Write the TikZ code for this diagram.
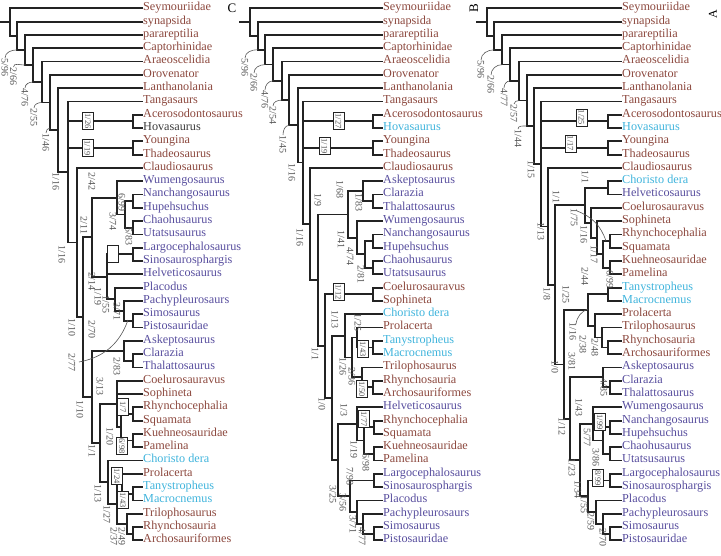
\documentclass[tikz,border=0pt]{standalone}
\usepackage{fontspec}
\setmainfont{Liberation Serif}
\definecolor{brn}{RGB}{140,72,62}
\definecolor{prp}{RGB}{88,78,158}
\definecolor{cyn}{RGB}{64,180,220}
\definecolor{dgr}{RGB}{60,60,60}
\definecolor{lgr}{RGB}{85,85,85}
\definecolor{ln}{RGB}{35,35,35}

\begin{document}
\begin{tikzpicture}[
		x={(1pt,0pt)},
		y={(0pt,-1pt)},
		branch/.style={draw=ln,line width=1.8pt,line cap=rect},
		taxon/.style={anchor=west,inner sep=1pt,font=\fontsize{12.2}{13}\selectfont,text height=0.68em,text depth=0.2em},
		supp/.style={anchor=west,rotate=-90,inner sep=0.5pt,text=lgr,font=\fontsize{10}{10}\selectfont},
		sbox/.style={draw=ln,fill=white,line width=0.7pt,rotate=-90,inner sep=1pt,minimum width=17pt,minimum height=11pt,text=lgr,font=\fontsize{8.5}{8.5}\selectfont},
		lead/.style={draw=lgr,line width=0.6pt},
	]
		\useasboundingbox (0,0) rectangle (721,555);
		
		% left tree
		\foreach \px/\x/\ya/\yb in {0/10/0/2.07, 10/17/1/3.13, 17/25/2/4.27, 25/33/3/5.54,
			33/41.7/4/7.08, 41.7/50/5/9.15, 50/58/6/12.3, 58/68/7/17.61,
			68/133/8/9, 68/133/10/11, 68/77/12/23.22, 77/83/17.22/29.22,
			83/92/14.25/20.19, 92/117/13/15.5, 117/125/14.5/16.5, 125/133/14/15, 125/133/16/17,
			92/107/18.5/21.875, 107/133/18/19, 107/115/21/22.75, 115/124/22/23.5, 124/133/23/24,
			83/92/25.75/32.69, 92/124/25/26.5, 124/133/26/27,
			92/100/29.75/35.625, 100/117/28/31.5, 117/121/30.5/32.5, 121/133/30/31, 121/133/32/33,
			100/108/34/37.25, 108/117/35.75/38.75, 117/122/35/36.5, 122/133/36/37,
			117/127/38/39.5, 127/133/39/40}{
			\draw[branch] (\px,{8.3+13.3*(\ya+\yb)/2}) -- (\x,{8.3+13.3*(\ya+\yb)/2})
				(\x,{8.3+13.3*\ya}) -- (\x,{8.3+13.3*\yb});
		}
		\foreach \r/\px/\n/\c in {0/10/Seymouriidae/brn, 1/17/synapsida/brn, 2/25/parareptilia/brn,
			3/33/Captorhinidae/brn, 4/41.7/Araeoscelidia/brn, 5/50/Orovenator/brn,
			6/58/Lanthanolania/brn, 7/68/Tangasaurs/brn, 8/133/Acerosodontosaurus/brn,
			9/133/Hovasaurus/dgr, 10/133/Youngina/brn, 11/133/Thadeosaurus/brn,
			12/77/Claudiosaurus/brn, 13/117/Wumengosaurus/prp, 14/133/Nanchangosaurus/prp,
			15/133/Hupehsuchus/prp, 16/133/Chaohusaurus/prp, 17/133/Utatsusaurus/prp,
			18/133/Largocephalosaurus/prp, 19/133/Sinosaurosphargis/prp, 20/107/Helveticosaurus/prp,
			21/115/Placodus/prp, 22/124/Pachypleurosaurs/prp, 23/133/Simosaurus/prp,
			24/133/Pistosauridae/prp, 25/124/Askeptosaurus/prp, 26/133/Clarazia/prp,
			27/133/Thalattosaurus/prp, 28/117/Coelurosauravus/brn, 29/117/Sophineta/brn,
			30/133/Rhynchocephalia/brn, 31/133/Squamata/brn, 32/133/Kuehneosauridae/brn,
			33/133/Pamelina/brn, 34/108/Choristo dera/cyn, 35/122/Prolacerta/brn,
			36/133/Tanystropheus/cyn, 37/133/Macrocnemus/cyn, 38/127/Trilophosaurus/brn,
			39/133/Rhynchosauria/brn, 40/133/Archosauriformes/brn}{
			\node[taxon,text=\c] (l-\r) at (142,{8.3+13.3*\r}) {\n};
			\draw[branch] (\px,{8.3+13.3*\r}) -- (l-\r.west);
		}
		\foreach \x/\y/\t [count=\i] in {5/58/{5/96}, 13.5/67/{2/66}, 25/88/{4/76}, 34/108/{2/55},
			46/133/{1/46}, 56/172/{1/16}, 62/245/{1/16}, 92/172/{2/42}, 122/193/{6/99},
			113/212/{3/74}, 129/227/{5/83}, 84/216/{2/11}, 92/272/{2/14}, 98/287/{1/19},
			106/295/{1/55}, 117/302/{3/71}, 72/318/{1/10}, 92/320/{2/70}, 72/353/{2/77},
			117/357/{2/83}, 100/377/{3/13}, 80/400/{1/10}, 110/427/{1/20}, 92/444/{1/1},
			98/484/{1/13}, 107/505/{1/27}, 114/527/{2/37}, 122/527/{2/49}}{
			\node[supp] (ls-\i) at (\x,\y) {\t};
		}
		\foreach \x/\y/\t [count=\i] in {88/121/{1/26}, 87.5/148/{1/19}, 113/254/{}, 123/407/{1/7},
			122/446/{6/98}, 117/476/{1/24}, 123/500/{1/43}}{
			\node[sbox] (lb-\i) at (\x,\y) {\t};
		}
		\draw[lead] (17,49.9) to[out=180,in=90] (ls-1.west);
		\draw[lead] (25,65.1) to[out=180,in=90] (ls-2.west);
		\draw[lead] (33,82) to[out=180,in=90] (ls-3.west);
		\draw[lead] (41.7,102.5) to[out=180,in=90] (ls-4.west);
		\draw[lead] (50,128) to[out=180,in=90] (ls-5.west);
		\draw[lead] (79,362) to[bend right=30] (128,320);
		
		% middle tree
		\node[font=\fontsize{13}{13}\selectfont] (panC) at (232,8) {C};
		\foreach \px/\x/\ya/\yb in {240/250/0/2.06, 250/257.7/1/3.11, 257.7/265/2/4.23, 265/273.3/3/5.45,
			273.3/281.7/4/6.9, 281.7/289.3/5/8.8, 289.3/297.7/6/11.6, 297.7/303/7/16.2,
			303/373/8/9, 303/373/10/11, 303/310/12/20.45, 310/318/15.5/25.4,
			318/348/13.75/17.25, 348/363/13/14.5, 363/373/14/15, 348/357/16/18.5,
			357/365/17.5/19.5, 365/373/17/18, 365/373/19/20,
			318/325/21.5/29.3, 325/373/21/22, 325/332/24.625/33.97, 332/345/23/26.25,
			345/352/24.75/27.75, 352/357/24/25.5, 357/373/25/26, 352/362/27/28.5, 362/373/28/29,
			332/338/31.25/36.69, 338/357/30/32.5, 357/364/31.5/33.5, 364/374/31/32, 364/374/33/34,
			338/350/35.5/37.875, 350/374/35/36, 350/357/37/38.75, 357/363/38/39.5, 363/374/39/40}{
			\draw[branch] (\px,{8.3+13.3*(\ya+\yb)/2}) -- (\x,{8.3+13.3*(\ya+\yb)/2})
				(\x,{8.3+13.3*\ya}) -- (\x,{8.3+13.3*\yb});
		}
		\foreach \r/\px/\n/\c in {0/250/Seymouriidae/brn, 1/257.7/synapsida/brn, 2/265/parareptilia/brn,
			3/273.3/Captorhinidae/brn, 4/281.7/Araeoscelidia/brn, 5/289.3/Orovenator/brn,
			6/297.7/Lanthanolania/brn, 7/303/Tangasaurs/brn, 8/373/Acerosodontosaurus/brn,
			9/373/Hovasaurus/cyn, 10/373/Youngina/brn, 11/373/Thadeosaurus/brn,
			12/310/Claudiosaurus/brn, 13/363/Askeptosaurus/prp, 14/373/Clarazia/prp,
			15/373/Thalattosaurus/prp, 16/357/Wumengosaurus/prp, 17/373/Nanchangosaurus/prp,
			18/373/Hupehsuchus/prp, 19/373/Chaohusaurus/prp, 20/373/Utatsusaurus/prp,
			21/373/Coelurosauravus/brn, 22/373/Sophineta/brn, 23/345/Choristo dera/cyn,
			24/357/Prolacerta/brn, 25/373/Tanystropheus/cyn, 26/373/Macrocnemus/cyn,
			27/362/Trilophosaurus/brn, 28/373/Rhynchosauria/brn, 29/373/Archosauriformes/brn,
			30/357/Helveticosaurus/prp, 31/374/Rhynchocephalia/brn, 32/374/Squamata/brn,
			33/374/Kuehneosauridae/brn, 34/374/Pamelina/brn, 35/374/Largocephalosaurus/prp,
			36/374/Sinosaurosphargis/prp, 37/357/Placodus/prp, 38/363/Pachypleurosaurs/prp,
			39/374/Simosaurus/prp, 40/374/Pistosauridae/prp}{
			\node[taxon,text=\c] (m-\r) at (382,{8.3+13.3*\r}) {\n};
			\draw[branch] (\px,{8.3+13.3*\r}) -- (m-\r.west);
		}
		\foreach \x/\y/\t [count=\i] in {245/58/{5/96}, 254/73/{2/66}, 265/90/{4/76}, 273/106/{2/54},
			283/135/{1/45}, 292/163/{1/16}, 300/228/{1/16}, 318/193/{1/9}, 340/180/{1/68},
			359/193/{1/83}, 341/230/{1/41}, 350/247/{4/74}, 361/265/{2/81}, 335/310/{1/13},
			315/347/{1/1}, 358/313/{1/25}, 343/357/{1/26}, 352/367/{2/36}, 322/397/{1/0},
			344/403/{1/3}, 354/440/{1/19}, 366/453/{6/98}, 350/467/{7/98}, 333/485/{3/25},
			343/493/{3/56}, 353/515/{3/71}, 362/527/{4/77}}{
			\node[supp] (ms-\i) at (\x,\y) {\t};
		}
		\foreach \x/\y/\t [count=\i] in {338.5/121/{1/27}, 324.5/146/{1/19}, 338.5/292/{1/12},
			363/349/{1/43}, 362/389/{1/50}, 364/419/{1/77}}{
			\node[sbox] (mb-\i) at (\x,\y) {\t};
		}
		\draw[lead] (257.7,49.7) to[out=180,in=90] (ms-1.west);
		\draw[lead] (265,64.6) to[out=180,in=90] (ms-2.west);
		\draw[lead] (273.3,80.8) to[out=180,in=90] (ms-3.west);
		\draw[lead] (281.7,100.1) to[out=180,in=90] (ms-4.west);
		\draw[lead] (289.3,125.3) to[out=180,in=90] (ms-5.west);
		
		% right tree
		\node[font=\fontsize{13}{13}\selectfont,rotate=90] (panB) at (474,8) {B};
		\node[font=\fontsize{12}{12}\selectfont,rotate=90,inner sep=0pt] (panA) at (713,14) {A};
		\foreach \px/\x/\ya/\yb in {476.7/486.7/0/2.06, 486.7/494.3/1/3.12, 494.3/502.3/2/4.23,
			502.3/510/3/5.46, 510/519/4/6.93, 519/526.7/5/8.85, 526.7/534.3/6/11.7,
			534.3/541/7/16.4, 541/608/8/9, 541/608/10/11, 541/547.7/12/20.8,
			547.7/555/14.81/26.78, 555/585/13.5/16.125, 585/608/13/14, 585/591/15/17.25,
			591/597/16/18.5, 597/603/17.5/19.5, 603/610/17/18, 603/610/19/20,
			555/564/22.69/30.86, 564/588/21.5/23.875, 588/608/21/22, 588/595/23/24.75,
			595/601.7/24/25.5, 601.7/608/25/26, 564/570/27.75/33.97, 570/603/27/28.5,
			603/610/28/29, 570/580/31.25/36.69, 580/593/30/32.5, 593/603/31.5/33.5,
			603/610/31/32, 603/610/33/34, 580/588/35.5/37.875, 588/610/35/36,
			588/596/37/38.75, 596/603/38/39.5, 603/610/39/40}{
			\draw[branch] (\px,{8.3+13.3*(\ya+\yb)/2}) -- (\x,{8.3+13.3*(\ya+\yb)/2})
				(\x,{8.3+13.3*\ya}) -- (\x,{8.3+13.3*\yb});
		}
		\foreach \r/\px/\n/\c in {0/486.7/Seymouriidae/brn, 1/494.3/synapsida/brn, 2/502.3/parareptilia/brn,
			3/510/Captorhinidae/brn, 4/519/Araeoscelidia/brn, 5/526.7/Orovenator/brn,
			6/534.3/Lanthanolania/brn, 7/541/Tangasaurs/brn, 8/608/Acerosodontosaurus/brn,
			9/608/Hovasaurus/cyn, 10/608/Youngina/brn, 11/608/Thadeosaurus/brn,
			12/547.7/Claudiosaurus/brn, 13/608/Choristo dera/cyn, 14/608/Helveticosaurus/prp,
			15/591/Coelurosauravus/brn, 16/597/Sophineta/brn, 17/610/Rhynchocephalia/brn,
			18/610/Squamata/brn, 19/610/Kuehneosauridae/brn, 20/610/Pamelina/brn,
			21/608/Tanystropheus/cyn, 22/608/Macrocnemus/cyn, 23/595/Prolacerta/brn,
			24/601.7/Trilophosaurus/brn, 25/608/Rhynchosauria/brn, 26/608/Archosauriformes/brn,
			27/603/Askeptosaurus/prp, 28/610/Clarazia/prp, 29/610/Thalattosaurus/prp,
			30/593/Wumengosaurus/prp, 31/610/Nanchangosaurus/prp, 32/610/Hupehsuchus/prp,
			33/610/Chaohusaurus/prp, 34/610/Utatsusaurus/prp, 35/610/Largocephalosaurus/prp,
			36/610/Sinosaurosphargis/prp, 37/596/Placodus/prp, 38/603/Pachypleurosaurs/prp,
			39/610/Simosaurus/prp, 40/610/Pistosauridae/prp}{
			\node[taxon,text=\c] (r-\r) at (621,{8.3+13.3*\r}) {\n};
			\draw[branch] (\px,{8.3+13.3*\r}) -- (r-\r.west);
		}
		\foreach \x/\y/\t [count=\i] in {481/60/{5/96}, 491/75/{2/66}, 504/88/{4/77}, 514/104/{2/57},
			518/129/{1/44}, 531/160/{1/15}, 585/170/{1/1}, 541/222/{1/13}, 556/190/{1/1},
			574/208/{1/75}, 584/225/{1/16}, 594/245/{1/17}, 610/270/{6/99}, 585/267/{2/44},
			547/287/{1/8}, 566/285/{1/25}, 573/322/{1/16}, 583/335/{2/38}, 595/338/{2/48},
			572/352/{3/81}, 555/360/{1/0}, 604/378/{4/85}, 579/398/{1/43}, 562/417/{1/12},
			587/428/{5/77}, 596/448/{3/86}, 572/458/{1/23}, 578/480/{1/34}, 584/495/{1/55},
			591/512/{2/59}, 603/528/{2/70}}{
			\node[supp] (rs-\i) at (\x,\y) {\t};
		}
		\foreach \x/\y/\t [count=\i] in {581.5/117.5/{1/25}, 570.5/143.5/{1/17}, 600/422/{1/99},
			598/478/{8/99}}{
			\node[sbox] (rb-\i) at (\x,\y) {\t};
		}
		\draw[lead] (494.3,49.8) to[out=180,in=90] (rs-1.west);
		\draw[lead] (502.3,64.6) to[out=180,in=90] (rs-2.west);
		\draw[lead] (510,80.9) to[out=180,in=90] (rs-3.west);
		\draw[lead] (519,100.5) to[out=180,in=90] (rs-4.west);
		\draw[lead] (526.7,126) to[out=180,in=90] (rs-5.west);
		\draw[lead] (577,211) to[bend left=25] (606,241);
		\draw[lead] (576,324) to[bend left=30] (588,309);
	\end{tikzpicture}
\end{document}
